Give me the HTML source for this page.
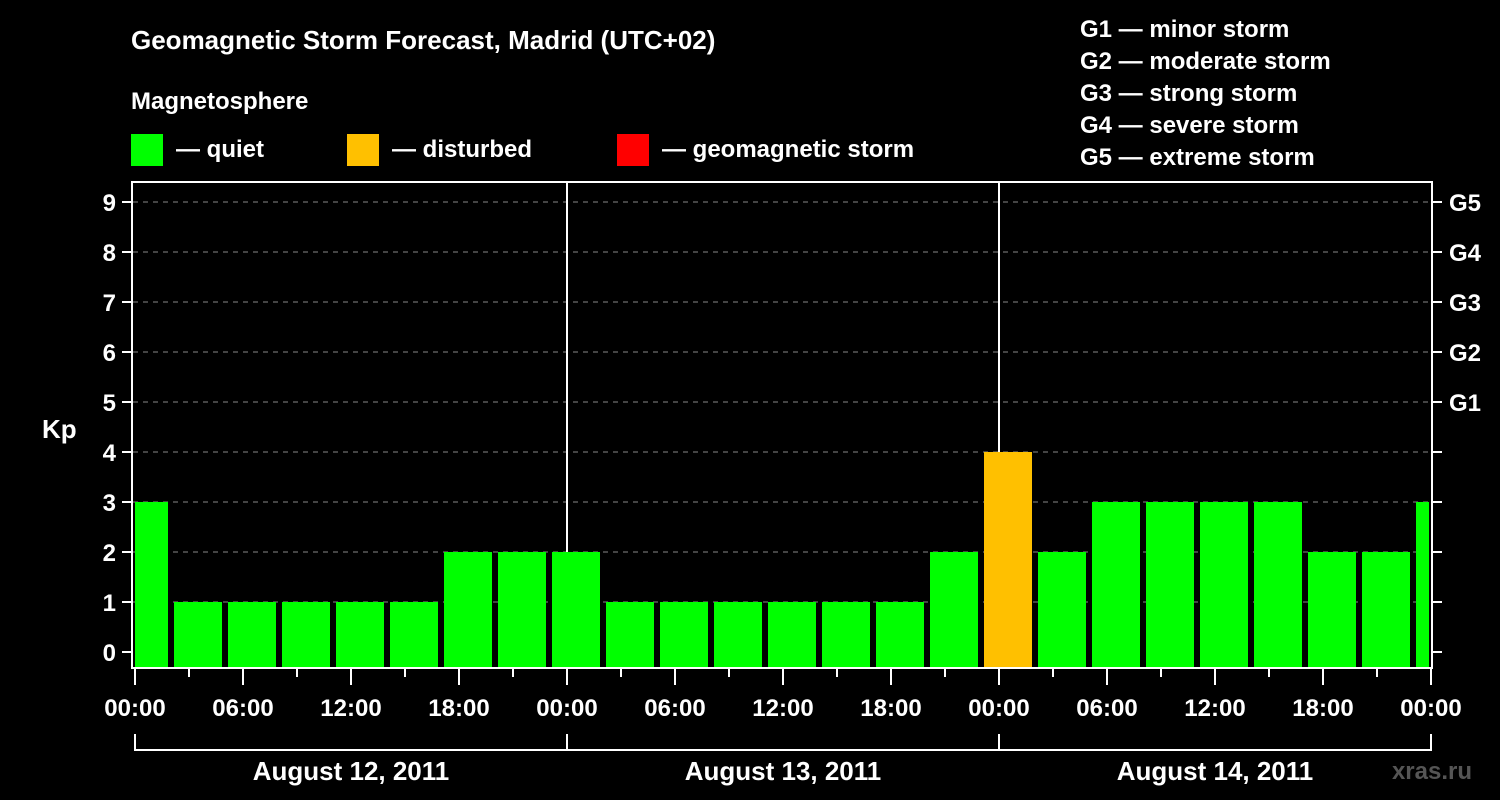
<!DOCTYPE html>
<html><head><meta charset="utf-8"><style>
body{margin:0;background:#000;width:1500px;height:800px;overflow:hidden}
svg{display:block;font-family:"Liberation Sans",Arial,sans-serif;font-weight:bold;fill:#fff}
</style></head><body>
<svg id="c" width="1500" height="800">
<text x="131" y="49" font-size="26">Geomagnetic Storm Forecast, Madrid (UTC+02)</text>
<text x="131" y="109" font-size="24">Magnetosphere</text>
<g>
<rect x="131" y="134" width="32" height="32" fill="#00ff00"/><text x="176" y="157" font-size="24">— quiet</text>
<rect x="347" y="134" width="32" height="32" fill="#ffc000"/><text x="392" y="157" font-size="24">— disturbed</text>
<rect x="617" y="134" width="32" height="32" fill="#ff0000"/><text x="662" y="157" font-size="24">— geomagnetic storm</text>
</g>
<g font-size="24">
<text x="1080" y="37">G1 — minor storm</text>
<text x="1080" y="69">G2 — moderate storm</text>
<text x="1080" y="101">G3 — strong storm</text>
<text x="1080" y="133">G4 — severe storm</text>
<text x="1080" y="165">G5 — extreme storm</text>
</g>
<text x="42" y="438" font-size="26">Kp</text>
<text x="1472" y="779" font-size="24" fill="#555" style="fill:#555" text-anchor="end">xras.ru</text>
<defs><clipPath id="pc"><rect x="135" y="180" width="1294" height="490"/></clipPath></defs>
<g id="grid"></g><g id="bars" clip-path="url(#pc)"></g><g id="axes"></g>
</svg>
<script>
const kpValues=[3,1,1,1,1,1,2,2,2,1,1,1,1,1,1,2,4,2,3,3,3,3,2,2,3];
const yTicks=[0,1,2,3,4,5,6,7,8,9];
const gLabels=["G1","G2","G3","G4","G5"];
const hourLabels=["00:00","06:00","12:00","18:00"];
const dayLabels=["August 12, 2011","August 13, 2011","August 14, 2011"];
const firstSlotHour=-1;
const NS="http://www.w3.org/2000/svg";
const x0=135,dayW=432,hourW=dayW/24;
const xs=h=>x0+h*hourW;
const ys=v=>652-50*v;
function mk(t,a,p){const e=document.createElementNS(NS,t);for(const k in a)e.setAttribute(k,a[k]);(p||document.getElementById('c')).appendChild(e);return e;}
const grid=document.getElementById('grid'),bars=document.getElementById('bars'),axes=document.getElementById('axes');
yTicks.forEach(v=>{if(v>0){const l=mk('line',{x1:133,x2:1431,y1:ys(v),y2:ys(v),stroke:'#888','stroke-dasharray':'5,5','stroke-width':1},grid);}
 const t=mk('line',{x1:122,x2:132,y1:ys(v),y2:ys(v),stroke:'#fff','stroke-width':2},axes);
 const r=mk('line',{x1:1432,x2:1442,y1:ys(v),y2:ys(v),stroke:'#fff','stroke-width':2},axes);
 const tx=mk('text',{x:116,y:ys(v)+9,'font-size':24,'text-anchor':'end'},axes);tx.textContent=v;
 if(v>=5){const g=mk('text',{x:1449,y:ys(v)+9,'font-size':24},axes);g.textContent=gLabels[v-5];}
});
kpValues.forEach((v,i)=>{const s=xs(firstSlotHour+3*i);const col=v>=5?'#ff0000':(v>=4?'#ffc000':'#00ff00');
 const b=mk('rect',{x:s+3,y:ys(v),width:48,height:668-ys(v),fill:col},bars);});
[1,2].forEach(d=>{const l=mk('line',{x1:xs(24*d),x2:xs(24*d),y1:182,y2:668,stroke:'#fff','stroke-width':2},grid);});
const f=mk('rect',{x:132,y:182,width:1300,height:486,fill:'none',stroke:'#fff','stroke-width':2},axes);
for(let h=0;h<=72;h+=3){const big=h%6===0;const t=mk('line',{x1:xs(h),x2:xs(h),y1:669,y2:big?685:677,stroke:'#fff','stroke-width':2},axes);
 if(big){const tx=mk('text',{x:xs(h),y:716,'font-size':24,'text-anchor':'middle'},axes);tx.textContent=h===72?hourLabels[0]:hourLabels[(h%24)/6];}}
const br=mk('path',{d:`M${xs(0)},734V750H${xs(72)}V734`,fill:'none',stroke:'#fff','stroke-width':2},axes);
dayLabels.forEach((d,i)=>{const l=mk('line',{x1:xs(24*i),x2:xs(24*i),y1:734,y2:750,stroke:'#fff','stroke-width':2},axes);
 const tx=mk('text',{x:xs(24*i+12),y:780,'font-size':26,'text-anchor':'middle'},axes);tx.textContent=d;});
</script>
</body></html>
